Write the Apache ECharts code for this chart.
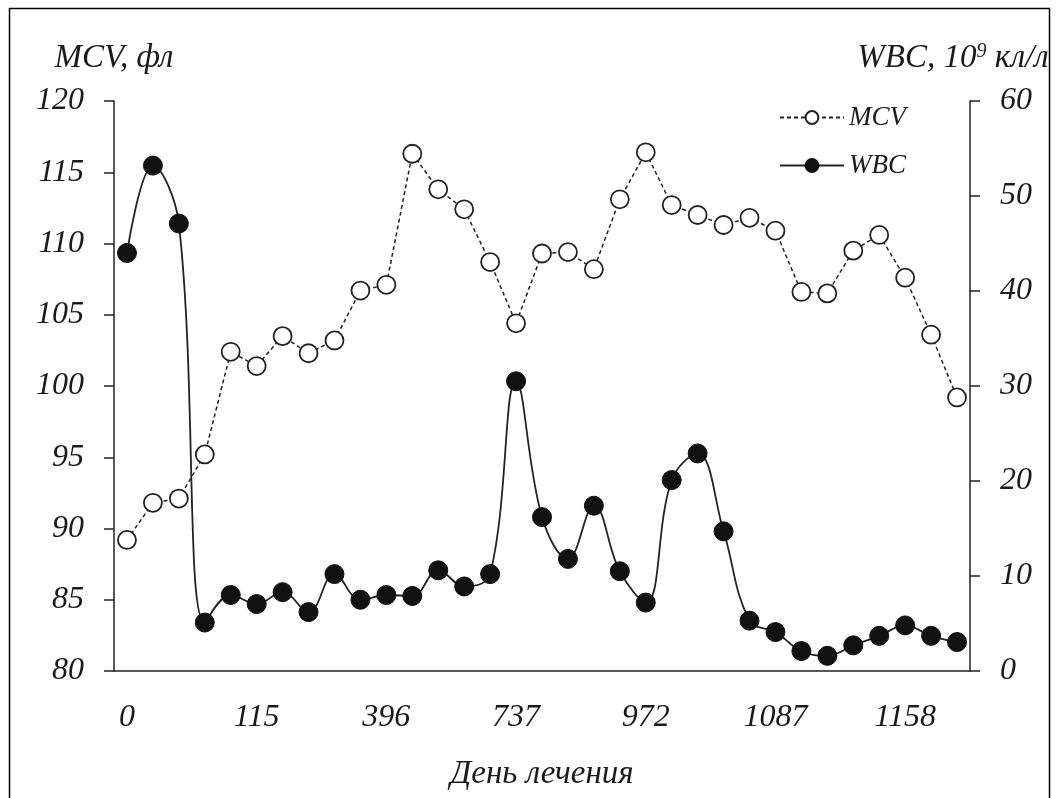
<!DOCTYPE html>
<html><head><meta charset="utf-8">
<script src="https://cdn.jsdelivr.net/npm/echarts@6/dist/echarts.min.js"></script>
<style>html,body{margin:0;padding:0;background:#fff}#c{width:1057px;height:798px}</style>
</head><body><div id="c"></div>
<script>
// ---- data ----
const xTickLabels = ['0','115','396','737','972','1087','1158'];
const categories = ['1','2','3','4','5','6','7','8','9','10','11','12','13','14','15','16','17','18','19','20','21','22','23','24','25','26','27','28','29','30','31','32','33'];
const mcv = [89.2,91.8,92.1,95.2,102.4,101.4,103.5,102.3,103.2,106.7,107.1,116.3,113.8,112.4,108.7,104.4,109.3,109.4,108.2,113.1,116.4,112.7,112.0,111.3,111.8,110.9,106.6,106.5,109.5,110.6,107.6,103.6,99.2];
const wbc = [44.0,53.2,47.1,5.1,8.0,7.05,8.3,6.2,10.2,7.5,8.0,7.9,10.6,8.9,10.2,30.5,16.2,11.8,17.4,10.5,7.2,20.1,22.9,14.7,5.3,4.1,2.1,1.6,2.7,3.7,4.8,3.7,3.05];

const F = 'Liberation Serif';
const txt = {fontFamily:F, fontStyle:'italic', color:'#1a1a1a', fontSize:32};
const nameTxt = Object.assign({}, txt, {fontSize:33});
const chart = echarts.init(document.getElementById('c'), null, {renderer:'canvas'});
chart.setOption({
  animation:false,
  backgroundColor:'#fff',
  grid:{left:114, right:87, top:101, bottom:127},
  graphic:[{type:'rect', shape:{x:9.5,y:8.5,width:1040,height:800}, style:{fill:'none', stroke:'#000', lineWidth:1.5}}],
  legend:{
    orient:'vertical', left:774, top:99, itemWidth:64, itemHeight:16, itemGap:21,
    textStyle:Object.assign({}, txt, {fontSize:27}),
    data:['MCV','WBC']
  },
  xAxis:{
    type:'category', data:categories, boundaryGap:true,
    axisLine:{lineStyle:{color:'#222', width:1.5}},
    axisTick:{interval:1, length:10, lineStyle:{color:'#222', width:1.5}},
    axisLabel:Object.assign({}, txt, {interval:4, margin:31, formatter:(v,i)=> xTickLabels[i/5] || ''}),
    name:'День лечения', nameLocation:'middle', nameGap:87, nameTextStyle:nameTxt
  },
  yAxis:[{
    type:'value', min:80, max:120, interval:5, position:'left',
    axisLine:{show:true, lineStyle:{color:'#222', width:1.5}},
    axisTick:{show:true, length:10, lineStyle:{color:'#222', width:1.5}},
    splitLine:{show:false},
    axisLabel:Object.assign({}, txt, {margin:30}),
    name:'MCV, фл', nameLocation:'end', nameGap:26, nameTextStyle:nameTxt
  },{
    type:'value', min:0, max:60, interval:10, position:'right',
    axisLine:{show:true, lineStyle:{color:'#222', width:1.5}},
    axisTick:{show:true, length:10, lineStyle:{color:'#222', width:1.5}},
    splitLine:{show:false},
    axisLabel:Object.assign({}, txt, {margin:30}),
    name:'{a|WBC, 10}{s|9}{a| кл/л}', nameLocation:'end', nameGap:26,
    nameTextStyle:Object.assign({}, nameTxt, {padding:[0,34,0,0], rich:{a:Object.assign({}, nameTxt), s:Object.assign({}, nameTxt, {fontSize:20, verticalAlign:'top', padding:[0,0,12,0]})}})
  }],
  series:[{
    name:'MCV', type:'line', yAxisIndex:0, data:mcv, z:3, showAllSymbol:true,
    symbol:'circle', symbolSize:18,
    lineStyle:{color:'#222', width:1.5, type:[4,3]},
    itemStyle:{color:'#fff', borderColor:'#222', borderWidth:1.8}
  },{
    name:'WBC', type:'line', yAxisIndex:1, data:wbc, z:4, smooth:0.4, showAllSymbol:true,
    symbol:'circle', symbolSize:19,
    lineStyle:{color:'#222', width:1.8},
    itemStyle:{color:'#111', borderColor:'#111', borderWidth:1}
  }]
});
</script></body></html>
